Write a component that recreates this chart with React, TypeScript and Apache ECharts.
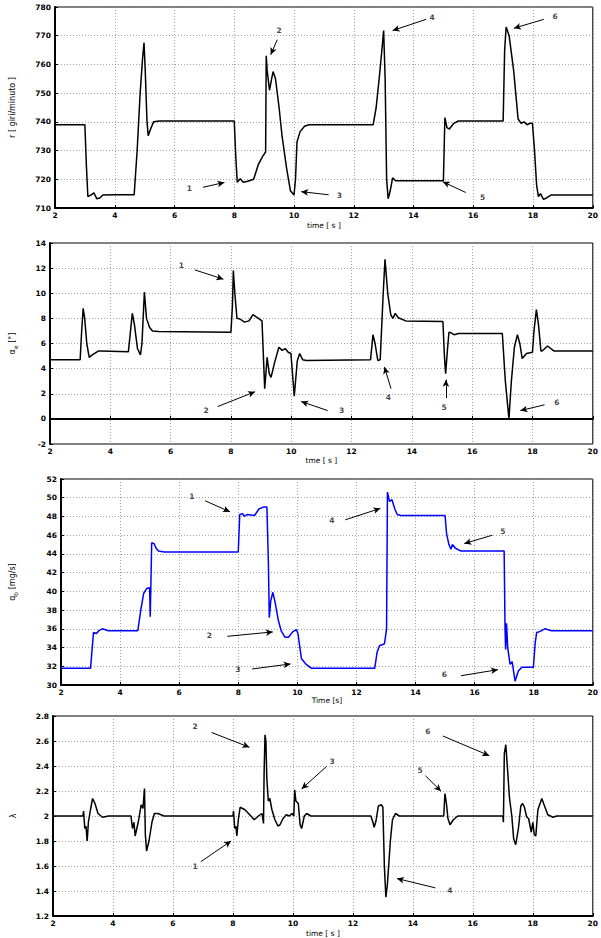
import React, { useEffect, useRef } from "react";
import * as echarts from "echarts";

type P = [number, number];

// Panel 1: engine speed r [giri/minuto]
const rSeries: P[] = [
  [2, 739], [3.0, 739], [3.05, 725], [3.1, 714], [3.2, 714.5], [3.3, 715.3], [3.4, 713.2], [3.5, 713.5], [3.6, 714.5],
  [4.0, 714.6], [4.65, 714.6], [4.75, 730], [4.85, 750], [4.93, 762], [4.98, 767.5], [5.02, 758], [5.08, 740],
  [5.12, 735.2], [5.2, 737.5], [5.3, 740], [5.5, 740.3], [8.0, 740.3], [8.05, 728], [8.1, 719], [8.2, 720.2],
  [8.3, 719], [8.45, 719.3], [8.65, 720], [8.8, 725], [8.95, 728], [9.05, 729.5], [9.07, 763], [9.1, 758],
  [9.18, 751], [9.25, 755], [9.3, 757.5], [9.38, 755], [9.5, 745], [9.6, 735], [9.75, 724], [9.88, 716],
  [10.0, 714.5], [10.05, 720], [10.1, 733], [10.2, 736.5], [10.35, 738.5], [10.5, 739], [12.65, 739],
  [12.75, 745], [12.85, 755], [12.95, 766], [13.0, 771.8], [13.05, 755], [13.1, 720], [13.15, 713.2],
  [13.22, 716], [13.3, 720.5], [13.4, 719.5], [15.0, 719.5], [15.05, 741.5], [15.12, 738], [15.2, 737.5],
  [15.35, 739.5], [15.5, 740.3], [17.0, 740.3], [17.05, 765], [17.1, 773], [17.2, 770], [17.35, 758],
  [17.5, 741], [17.6, 739.5], [17.7, 740], [17.8, 739], [17.9, 739.5], [17.98, 739.5], [18.05, 730],
  [18.12, 718], [18.18, 714], [18.25, 715], [18.35, 713], [18.45, 713.5], [18.6, 714.5], [20, 714.5],
];

// Panel 2: alpha_e [deg]
const alphaSeries: P[] = [
  [2, 4.7], [3.0, 4.7], [3.05, 7], [3.1, 8.8], [3.15, 8.0], [3.22, 6], [3.3, 4.9], [3.4, 5.1], [3.6, 5.4],
  [3.7, 5.4], [4.6, 5.35], [4.67, 7], [4.73, 8.4], [4.8, 7.5], [4.9, 5.6], [5.0, 5.1], [5.05, 6], [5.13, 10.1],
  [5.2, 8.0], [5.3, 7.3], [5.4, 7.0], [5.6, 6.95], [8.0, 6.9], [8.05, 9], [8.08, 11.8], [8.13, 10], [8.2, 8.0],
  [8.3, 7.95], [8.45, 7.7], [8.6, 7.8], [8.73, 8.3], [8.85, 8.1], [9.03, 7.8], [9.12, 2.4], [9.2, 4.9],
  [9.27, 3.6], [9.33, 3.3], [9.45, 4.5], [9.59, 5.7], [9.7, 5.45], [9.8, 5.6], [9.9, 5.3], [9.99, 5.2],
  [10.1, 1.8], [10.2, 4.6], [10.28, 5.2], [10.38, 4.7], [10.5, 4.65], [12.63, 4.7], [12.71, 6.7], [12.78, 6.0],
  [12.87, 4.65], [12.95, 4.7], [13.05, 10], [13.11, 12.7], [13.2, 10], [13.3, 8.3], [13.37, 8.0], [13.45, 8.4],
  [13.55, 8.05], [13.8, 7.8], [15.03, 7.75], [15.08, 5], [15.12, 3.6], [15.18, 5.5], [15.23, 6.9], [15.3, 6.85],
  [15.4, 6.7], [15.55, 6.8], [17.0, 6.8], [17.1, 3], [17.22, 0], [17.3, 3], [17.4, 5.7], [17.5, 6.7],
  [17.58, 6], [17.66, 4.8], [17.8, 5.2], [18.0, 5.3], [18.05, 7], [18.13, 8.7], [18.2, 7.5], [18.28, 5.4],
  [18.32, 5.4], [18.5, 5.8], [18.72, 5.4], [20, 5.4],
];
const alphaZero: P[] = [[2, 0], [20, 0]];

// Panel 3: q_b [mg/s]
const qSeries: P[] = [
  [2, 31.8], [3.0, 31.8], [3.1, 35.6], [3.2, 35.5], [3.28, 35.8], [3.4, 36.0], [3.6, 35.8], [4.6, 35.8],
  [4.7, 38], [4.8, 39.8], [4.9, 40.3], [5.0, 40.4], [5.02, 37.3], [5.04, 40.4], [5.07, 45.2], [5.15, 45.1],
  [5.22, 44.6], [5.3, 44.3], [5.5, 44.2], [8.0, 44.2], [8.05, 48.2], [8.15, 48.3], [8.2, 48.0], [8.3, 48.2],
  [8.55, 48.1], [8.7, 48.8], [8.85, 49.0], [8.97, 49.0], [9.02, 43], [9.05, 37.2], [9.1, 39], [9.17, 39.9],
  [9.25, 38.8], [9.35, 37], [9.45, 35.8], [9.58, 35.1], [9.7, 35.1], [9.85, 35.7], [9.97, 35.9], [10.02, 35.5],
  [10.14, 32.8], [10.3, 32.2], [10.47, 31.8], [12.62, 31.8], [12.7, 33.5], [12.78, 34.2], [12.95, 34.4],
  [13.02, 36], [13.05, 50.6], [13.12, 49.6], [13.2, 49.8], [13.3, 48.8], [13.38, 48.2], [13.5, 48.1],
  [15.0, 48.1], [15.05, 46.2], [15.13, 45.0], [15.2, 44.5], [15.25, 45.0], [15.35, 44.6], [15.54, 44.3],
  [17.0, 44.3], [17.03, 36], [17.05, 33.8], [17.08, 36.6], [17.12, 34], [17.2, 32.2], [17.27, 32.5],
  [17.37, 30.4], [17.48, 31.5], [17.6, 31.9], [17.99, 31.9], [18.05, 34.5], [18.1, 35.6], [18.2, 35.7],
  [18.38, 36.0], [18.6, 35.8], [20, 35.8],
];

// Panel 4: lambda
const lambdaSeries: P[] = [
  [2, 2.0], [3.0, 2.0], [3.02, 2.04], [3.06, 1.9], [3.1, 1.92], [3.14, 1.8], [3.18, 1.95], [3.25, 2.05],
  [3.32, 2.14], [3.4, 2.1], [3.5, 2.02], [3.65, 1.99], [3.85, 2.0], [4.6, 2.0], [4.65, 1.9], [4.7, 1.95],
  [4.74, 1.84], [4.85, 1.96], [4.94, 2.09], [5.0, 2.06], [5.05, 2.22], [5.08, 1.85], [5.12, 1.72], [5.2, 1.8],
  [5.3, 1.95], [5.38, 2.02], [5.5, 2.02], [5.7, 2.0], [8.0, 2.0], [8.02, 2.04], [8.06, 1.9], [8.1, 1.92],
  [8.13, 1.84], [8.18, 1.97], [8.24, 2.07], [8.4, 2.05], [8.6, 2.0], [8.71, 1.97], [8.85, 2.0], [8.97, 2.02],
  [9.02, 1.94], [9.04, 2.35], [9.07, 2.65], [9.1, 2.6], [9.13, 2.3], [9.18, 2.12], [9.23, 2.14], [9.3, 2.05],
  [9.4, 1.97], [9.5, 1.92], [9.57, 1.93], [9.67, 1.98], [9.78, 2.01], [9.88, 2.0], [9.97, 2.02], [10.03, 2.0],
  [10.06, 2.21], [10.1, 2.12], [10.18, 2.1], [10.24, 1.93], [10.29, 1.9], [10.38, 2.0], [10.46, 2.02],
  [10.6, 2.0], [12.6, 2.0], [12.67, 1.95], [12.71, 1.91], [12.77, 1.96], [12.85, 2.08], [12.95, 2.09],
  [13.0, 2.07], [13.05, 1.6], [13.1, 1.35], [13.15, 1.45], [13.25, 1.8], [13.32, 1.97], [13.42, 2.02],
  [13.55, 2.0], [15.03, 2.0], [15.07, 2.18], [15.12, 2.1], [15.17, 1.98], [15.24, 1.93], [15.35, 1.97],
  [15.5, 2.0], [17.0, 2.0], [17.02, 1.95], [17.05, 2.5], [17.1, 2.57], [17.15, 2.4], [17.22, 2.15],
  [17.3, 2.0], [17.36, 1.82], [17.43, 1.77], [17.52, 1.9], [17.6, 2.08], [17.66, 2.1], [17.72, 2.07],
  [17.8, 1.99], [17.86, 1.98], [17.95, 1.87], [18.0, 1.95], [18.05, 1.85], [18.1, 1.84], [18.17, 2.05],
  [18.3, 2.14], [18.36, 2.1], [18.5, 2.01], [18.67, 1.99], [18.8, 2.0], [20, 2.0],
];

// Annotations: [label, textT, textV, fromT, fromV, toT, toV]
type Ann = [string, number, number, number, number, number, number];
const rNotes: Ann[] = [
  ["1", 6.5, 716.6, 6.95, 717.2, 7.67, 718.9],
  ["2", 9.5, 771.8, 9.44, 768.6, 9.22, 763.4],
  ["3", 11.52, 714.3, 11.16, 714.6, 10.24, 715.7],
  ["4", 14.62, 776.1, 14.42, 775.7, 13.3, 771.8],
  ["5", 16.31, 713.4, 15.75, 715.4, 14.98, 719.1],
  ["6", 18.74, 776.6, 18.36, 775.7, 17.36, 772.6],
];
const alphaNotes: Ann[] = [
  ["1", 6.36, 12.13, 6.8, 11.86, 7.75, 11.12],
  ["2", 7.18, 0.66, 7.56, 0.98, 8.8, 2.16],
  ["3", 11.67, 0.61, 11.21, 0.66, 10.33, 1.38],
  ["4", 13.22, 1.68, 13.31, 2.4, 13.09, 4.13],
  ["5", 15.07, 0.88, 15.13, 1.65, 15.13, 3.12],
  ["6", 18.81, 1.25, 18.4, 1.12, 17.6, 0.66],
];
const qNotes: Ann[] = [
  ["1", 6.43, 50.04, 6.88, 49.67, 7.72, 48.5],
  ["2", 7.02, 35.2, 7.63, 35.2, 9.17, 35.67],
  ["3", 7.99, 31.56, 8.47, 31.71, 9.77, 32.25],
  ["4", 11.17, 47.53, 11.62, 47.64, 12.81, 48.86],
  ["5", 16.96, 46.35, 16.6, 46.0, 15.65, 45.1],
  ["6", 14.98, 31.1, 15.54, 30.99, 16.79, 31.64],
];
const lambdaNotes: Ann[] = [
  ["2", 6.74, 2.713, 7.29, 2.668, 8.55, 2.55],
  ["1", 6.74, 1.59, 6.93, 1.635, 7.94, 1.8],
  ["3", 11.31, 2.43, 11.12, 2.396, 10.29, 2.217],
  ["5", 14.24, 2.364, 14.42, 2.322, 14.94, 2.198],
  ["6", 14.5, 2.673, 15.0, 2.64, 16.55, 2.483],
  ["4", 15.23, 1.4, 14.75, 1.425, 13.47, 1.5],
];

const xTicksMin = 2;
const xTicksMax = 20;

const FONT = "DejaVu Sans";

const panels = [
  { data: rSeries, notes: rNotes, min: 710, max: 780, interval: 10, color: "#000", xName: "time [ s ]", yName: "r [ giri/minuto ]", nameGapY: 39, nameGapX: 13, grid: { left: 55, top: 7, width: 542, height: 201 } },
  { data: alphaSeries, notes: alphaNotes, min: -2, max: 14, interval: 2, color: "#000", xName: "tme [ s ]", yName: "{t|α}{s|e}{t| [°]}", nameGapY: 32, nameGapX: 12, grid: { left: 48, top: 243, width: 549, height: 201 } },
  { data: qSeries, notes: qNotes, min: 30, max: 52, interval: 2, color: "#0000ff", xName: "Time [s]", yName: "{t|q}{s|b}{t| [mg/s]}", nameGapY: 43, nameGapX: 8, grid: { left: 58, top: 479, width: 539, height: 206 } },
  { data: lambdaSeries, notes: lambdaNotes, min: 1.2, max: 2.8, interval: 0.2, color: "#000", xName: "time [ s ]", yName: "λ", nameGapY: 36, nameGapX: 13, grid: { left: 53, top: 716, width: 544, height: 201 } },
];

function buildOption() {
  const grid: any[] = [];
  const xAxis: any[] = [];
  const yAxis: any[] = [];
  const series: any[] = [];
  const labelStyle = { fontFamily: FONT, fontSize: 7.5, color: "#000", fontWeight: "bold" as const };
  panels.forEach((p, i) => {
    grid.push({ ...p.grid, show: true, borderColor: "#000", borderWidth: 1, backgroundColor: "#fff" });
    xAxis.push({
      type: "value", gridIndex: i, min: xTicksMin, max: xTicksMax, interval: 2,
      name: p.xName, nameLocation: "middle", nameGap: p.nameGapX,
      nameTextStyle: { fontFamily: FONT, fontSize: 7.5, color: "#000", verticalAlign: "top" },
      axisLine: { show: true, lineStyle: { color: "#000", width: 2 } },
      axisTick: { show: true, inside: true, length: 3, lineStyle: { color: "#000" } },
      axisLabel: { ...labelStyle, margin: 3 },
      splitLine: { show: true, lineStyle: { color: "#8a8a8a", type: [1, 2], width: 0.8 } },
    });
    yAxis.push({
      type: "value", gridIndex: i, min: p.min, max: p.max, interval: p.interval,
      name: p.yName, nameLocation: "middle", nameGap: p.nameGapY, nameRotate: 90,
      nameTextStyle: {
        fontFamily: FONT, fontSize: 8, color: "#000",
        rich: {
          t: { fontFamily: FONT, fontSize: 8, color: "#000" },
          s: { fontFamily: FONT, fontSize: 6, color: "#000", padding: [6, 0, 0, 0] },
        },
      },
      axisLine: { show: true, lineStyle: { color: "#000", width: 2 } },
      axisTick: { show: true, inside: true, length: 3, lineStyle: { color: "#000" } },
      axisLabel: {
        ...labelStyle, margin: 4,
        formatter: (v: number) => String(parseFloat(v.toFixed(1))),
      },
      splitLine: { show: true, lineStyle: { color: "#8a8a8a", type: [1, 2], width: 0.8 } },
    });
    series.push({
      type: "line", xAxisIndex: i, yAxisIndex: i, data: p.data, showSymbol: false,
      lineStyle: { color: p.color, width: 1.5 }, itemStyle: { color: p.color },
      silent: true, z: 3,
      markLine: {
        silent: true, symbol: ["none", "arrow"], symbolSize: [5, 7],
        lineStyle: { color: "#000", width: 1, type: "solid" },
        itemStyle: { color: "#000" },
        label: { show: false },
        data: p.notes.map((n) => [{ coord: [n[3], n[4]] }, { coord: [n[5], n[6]] }]),
      },
    });
    series.push({
      type: "scatter", xAxisIndex: i, yAxisIndex: i, symbolSize: 1, silent: true,
      itemStyle: { color: "rgba(0,0,0,0)" },
      data: p.notes.map((n) => ({ value: [n[1], n[2]], name: n[0] })),
      label: {
        show: true, position: "top", distance: 0, offset: [0, 4], formatter: "{b}",
        fontFamily: FONT, fontSize: 7.5, fontWeight: "bold", color: "#111",
      },
      z: 4,
    });
    if (i === 1) {
      series.push({
        type: "line", xAxisIndex: i, yAxisIndex: i, data: alphaZero, showSymbol: false,
        lineStyle: { color: "#000", width: 1.6 }, silent: true, z: 3,
      });
    }
  });
  return { animation: false, backgroundColor: "#fff", grid, xAxis, yAxis, series };
}

export default function App() {
  const ref = useRef<HTMLDivElement>(null);
  useEffect(() => {
    if (!ref.current) return;
    const chart = echarts.init(ref.current, null, { renderer: "svg" });
    chart.setOption(buildOption() as any);
    return () => chart.dispose();
  }, []);
  return (
    <div
      ref={ref}
      style={{ position: "fixed", left: 0, top: 0, width: 601, height: 938, background: "#fff" }}
    />
  );
}
